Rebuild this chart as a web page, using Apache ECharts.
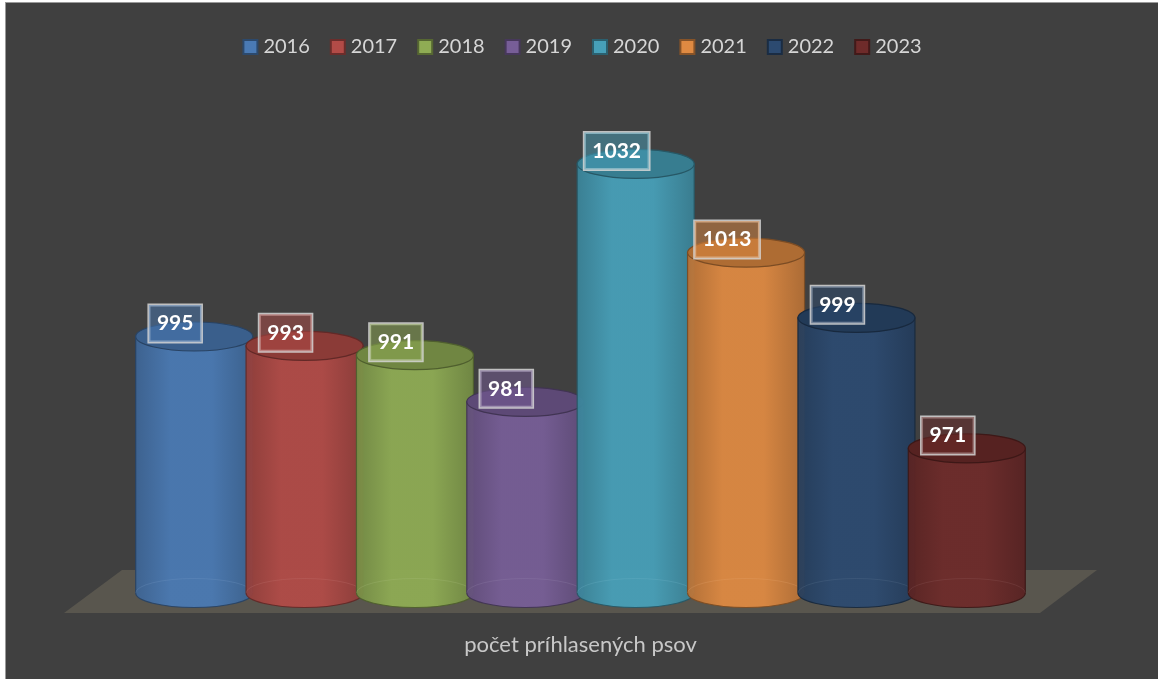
<!DOCTYPE html>
<html>
<head>
    <meta charset="utf-8">
    <title>počet prihlasených psov</title>
    <script src="https://cdn.jsdelivr.net/npm/echarts@6/dist/echarts.min.js"></script>
    <style>
        html, body { margin: 0; padding: 0; background: #ffffff; }
        #chart1 {
            position: absolute; left: 5px; top: 2px;
            width: 1152px; height: 676px;
            border-top: 1px solid #9a9a9a; border-left: 1px solid #9a9a9a;
        }
    </style>
</head>
<body>
<div id="chart1"></div>
<script type="text/javascript">
    // data
    var categories = ['počet príhlasených psov'];
    var years = ['2016', '2017', '2018', '2019', '2020', '2021', '2022', '2023'];
    var values = [995, 993, 991, 981, 1032, 1013, 999, 971];
    var colors = ['#4a7ab4', '#b24b47', '#8fac54', '#775e97', '#47a0b9', '#df8a42', '#2c4a70', '#6e2b2a'];
    var axisMin = 940, axisMax = 1050;

    // lighten / darken a hex colour, amt in -1..1
    function shade(hex, amt) {
        var n = parseInt(hex.slice(1), 16);
        var rgb = [(n >> 16) & 255, (n >> 8) & 255, n & 255].map(function (c) {
            var t = amt < 0 ? 0 : 255;
            return Math.round(c + (t - c) * Math.abs(amt));
        });
        return 'rgb(' + rgb.join(',') + ')';
    }
    function alpha(hex, a) {
        var n = parseInt(hex.slice(1), 16);
        return 'rgba(' + ((n >> 16) & 255) + ',' + ((n >> 8) & 255) + ',' + (n & 255) + ',' + a + ')';
    }

    function cylinder(params, api) {
        var i = params.seriesIndex;
        var c = colors[i];
        var band = api.size([1, 0])[0];
        var center = api.coord([api.value(0), api.value(1)]);
        var base = api.coord([api.value(0), axisMin]);
        var slot = band / years.length;
        var cx = center[0] - band / 2 + slot * (i + 0.5);
        var topY = center[1], baseY = base[1];
        var rx = slot * 0.53, ry = 14.5;
        var l = cx - rx, r = cx + rx;

        var body = 'M' + l + ',' + topY + ' L' + l + ',' + baseY +
            ' A' + rx + ',' + ry + ' 0 0 0 ' + r + ',' + baseY +
            ' L' + r + ',' + topY + ' Z';
        var ellipse = function (y) {
            return 'M' + l + ',' + y + ' A' + rx + ',' + ry + ' 0 1 0 ' + r + ',' + y +
                ' A' + rx + ',' + ry + ' 0 1 0 ' + l + ',' + y + ' Z';
        };
        var backEdge = 'M' + l + ',' + baseY + ' A' + rx + ',' + ry + ' 0 0 1 ' + r + ',' + baseY;

        return {
            type: 'group',
            children: [
                {
                    type: 'path',
                    shape: { pathData: body },
                    style: {
                        fill: new echarts.graphic.LinearGradient(0, 0, 1, 0, [
                            { offset: 0, color: shade(c, -0.18) },
                            { offset: 0.3, color: c },
                            { offset: 0.65, color: c },
                            { offset: 1, color: shade(c, -0.2) }
                        ]),
                        stroke: shade(c, -0.45),
                        lineWidth: 1.2,
                        opacity: 0.94
                    }
                },
                {
                    type: 'path',
                    shape: { pathData: backEdge },
                    style: { fill: null, stroke: shade(c, 0.25), lineWidth: 1, opacity: 0.25 }
                },
                {
                    type: 'path',
                    shape: { pathData: ellipse(topY) },
                    style: { fill: shade(c, -0.22), stroke: shade(c, -0.45), lineWidth: 1.2 }
                },
                {
                    type: 'text',
                    x: cx - 19,
                    y: topY - 13,
                    style: {
                        text: String(api.value(1)),
                        fill: '#ffffff',
                        font: 'bold 21px Lato',
                        align: 'center',
                        verticalAlign: 'middle',
                        lineHeight: 22,
                        padding: [8, 8, 7, 8],
                        backgroundColor: alpha(c, 0.5),
                        borderColor: 'rgba(215,215,215,0.85)',
                        borderWidth: 1.5
                    }
                }
            ]
        };
    }

    var myChart1 = echarts.init(document.getElementById('chart1'));

    var series = years.map(function (y, i) {
        return {
            name: y,
            type: 'custom',
            renderItem: cylinder,
            itemStyle: { color: colors[i], borderColor: shade(colors[i], -0.4), borderWidth: 1.5 },
            data: [[0, values[i]]],
            z: 2
        };
    });

    myChart1.setOption({
        backgroundColor: '#404040',
        textStyle: { fontFamily: 'Lato' },
        legend: {
            data: years,
            top: 29,
            left: 'center',
            icon: 'rect',
            itemWidth: 14,
            itemHeight: 14,
            itemGap: 20,
            textStyle: { color: '#d6d6d6', fontSize: 20, fontFamily: 'Lato', padding: [0, 0, 0, 1] }
        },
        grid: { left: 133, right: 136, top: 77, bottom: 86 },
        xAxis: {
            type: 'category',
            data: categories,
            axisLine: { show: false },
            axisTick: { show: false },
            axisLabel: { color: '#c8c8c8', fontSize: 22, fontFamily: 'Lato', margin: 41 }
        },
        yAxis: {
            type: 'value',
            min: axisMin,
            max: axisMax,
            show: false
        },
        graphic: [{
            type: 'polygon',
            z: 0,
            shape: { points: [[58, 610], [116, 567], [1091, 567], [1034, 610]] },
            style: { fill: '#59564e' }
        }],
        series: series
    });
</script>
</body>
</html>
